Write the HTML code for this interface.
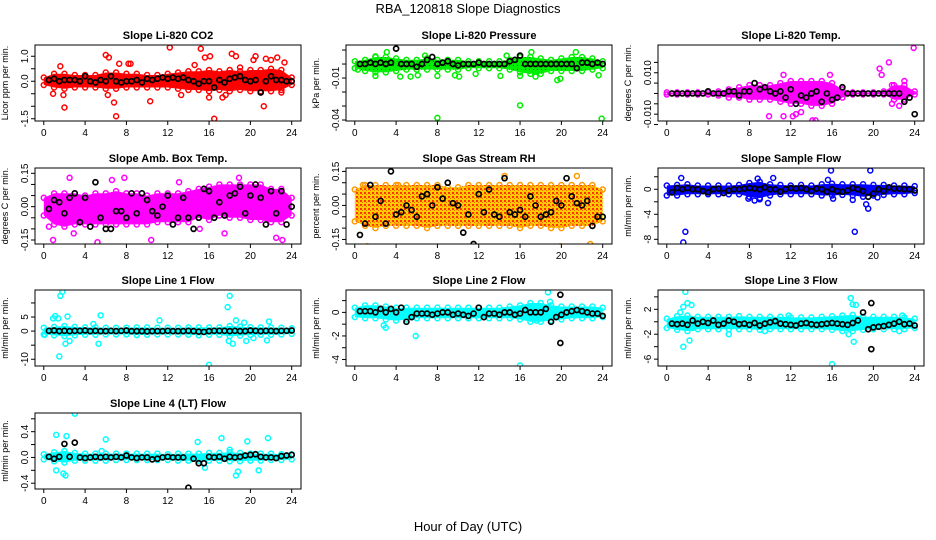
<!DOCTYPE html>
<html><head><meta charset="utf-8"><style>
html,body{margin:0;padding:0;background:#fff;}
svg{display:block;font-family:"Liberation Sans",Arial,sans-serif;}
</style></head><body>
<svg id="chart" width="936" height="540" viewBox="0 0 936 540" xmlns="http://www.w3.org/2000/svg">
<defs>
<pattern id="rh-pat" width="4" height="4" patternUnits="userSpaceOnUse">
<rect width="4" height="4" fill="#ffcc00"/><rect x="0" y="0" width="2" height="2" fill="#ff3300"/><rect x="2" y="2" width="1" height="1" fill="#ff6600"/>
</pattern>
<pattern id="pres-pat" width="4" height="4" patternUnits="userSpaceOnUse">
<rect width="4" height="4" fill="#00ee00"/><rect x="1" y="1" width="1" height="1" fill="#006600"/>
</pattern>
</defs>
<text x="468" y="13" font-size="13" text-anchor="middle">RBA_120818  Slope Diagnostics</text>
<text x="468" y="531" font-size="13" text-anchor="middle">Hour of Day (UTC)</text>
</svg>
<script>
const hourTicks=[0,4,8,12,16,20,24];
const bandHours=[0,1,2,3,4,5,6,7,8,9,10,11,12,13,14,15,16,17,18,19,20,21,22,23,24];

const co2Lo=[-0.15,-0.25,-0.3,-0.25,-0.25,-0.25,-0.3,-0.3,-0.25,-0.25,-0.25,-0.25,-0.25,-0.3,-0.35,-0.35,-0.4,-0.35,-0.4,-0.35,-0.4,-0.4,-0.4,-0.35,-0.15];
const co2Hi=[0.15,0.3,0.3,0.25,0.25,0.25,0.35,0.35,0.3,0.3,0.25,0.25,0.3,0.35,0.4,0.4,0.45,0.4,0.45,0.4,0.45,0.45,0.5,0.45,0.15];
const co2OutX=[0.9,1.9,2.0,1.6,6.0,6.3,6.2,6.8,7.0,7.3,8.2,8.4,10.3,12.2,13.3,14.6,15.2,15.6,16.1,16.5,16.0,17.3,17.6,18.2,18.6,19.0,20.3,20.5,21.3,21.5,22.0,22.6,23.3,23.0];
const co2OutY=[-0.5,-0.55,-1.05,0.6,1.05,0.95,-0.55,-0.85,-1.4,0.7,0.7,0.7,-0.8,1.35,-0.55,0.65,1.3,0.95,1.0,-1.5,-0.65,-0.65,-0.55,1.1,1.0,0.55,0.85,1.0,-1.0,0.9,0.85,0.95,0.75,-0.45];
const co2Means=[0.05,0.1,0.0,0.05,0.05,0.05,0.0,0.2,0.0,-0.05,0.05,0.0,0.2,0.0,-0.05,0.0,0.0,0.05,-0.05,0.1,0.05,0.1,0.15,0.1,0.15,0.1,0.15,0.05,0.0,-0.1,0.0,0.0,-0.25,0.05,-0.05,0.1,0.15,0.2,0.05,0.0,0.05,-0.45,0.0,0.2,0.05,0.05,0.0,0.0];

const presLo=[-0.003,-0.005,-0.006,-0.006,-0.005,-0.004,-0.004,-0.004,-0.004,-0.004,-0.004,-0.003,-0.003,-0.003,-0.003,-0.004,-0.006,-0.007,-0.007,-0.005,-0.005,-0.005,-0.005,-0.004,-0.003];
const presHi=[0.002,0.003,0.005,0.005,0.004,0.003,0.003,0.004,0.003,0.003,0.003,0.002,0.002,0.002,0.002,0.003,0.005,0.005,0.004,0.003,0.004,0.005,0.005,0.004,0.002];
const presOutX=[0.3,2,2,3.1,4.4,5.4,6.1,6.8,8.0,8.0,9.7,10.1,11.7,14.1,14.7,16.0,16.0,17.1,17.5,19.6,19.9,21.4,23.6,23.9];
const presOutY=[-0.004,-0.0085,0.0055,0.0085,-0.009,-0.009,-0.008,0.006,-0.0085,-0.0385,-0.008,-0.009,-0.007,-0.0085,0.006,-0.0295,-0.0085,0.0085,-0.009,-0.0115,-0.0105,0.0085,-0.008,-0.039];
const presMeans=[0,0,0.001,0,0.001,0,0.001,0.011,0,0,0,-0.002,0,0.003,0.005,0,0.001,0.002,0,-0.001,0,0,0,0.001,0,0,0,0,0,0.002,0.003,0.006,0,0,0,0,0,0,0,0,0,0,-0.003,0.001,0.001,0,0.001,0];

const tempLo=[-0.0005,-0.0005,-0.0005,-0.0005,-0.0005,-0.001,-0.002,-0.002,-0.003,-0.003,-0.003,-0.004,-0.005,-0.005,-0.006,-0.006,-0.005,-0.002,-0.0005,-0.0005,-0.0005,-0.0005,-0.003,-0.003,-0.0005];
const tempHi=[0.0005,0.0005,0.0005,0.0005,0.0005,0.001,0.002,0.003,0.004,0.004,0.004,0.005,0.006,0.006,0.006,0.006,0.005,0.002,0.0005,0.0005,0.0005,0.001,0.004,0.004,0.001];
const tempOutX=[9.9,11.3,11.3,12.2,12.5,13.0,14.1,14.4,15.8,20.6,20.8,21.5,21.8,21.8,23.0,23.9,22.5];
const tempOutY=[-0.011,0.009,-0.011,-0.011,-0.010,-0.009,-0.013,-0.013,0.009,0.012,0.009,0.015,0.004,-0.005,0.006,0.022,-0.006];
const tempMeans=[0,0,0,0,0,0,0,0.001,0,0,0,0.001,0.001,-0.001,0.001,0.001,0.005,0.002,0.003,0.001,0,0.001,-0.002,0.002,-0.005,-0.001,-0.002,0,0.001,-0.004,0,-0.003,-0.002,0.003,0,0,0,0,0,0,0,0,0,0,0,-0.004,-0.002,-0.010];

const ambLo=[-0.04,-0.08,-0.09,-0.08,-0.08,-0.08,-0.08,-0.08,-0.08,-0.08,-0.08,-0.07,-0.07,-0.07,-0.07,-0.05,-0.06,-0.04,-0.05,-0.05,-0.06,-0.06,-0.07,-0.07,-0.04];
const ambHi=[0.04,0.06,0.06,0.06,0.05,0.06,0.06,0.07,0.06,0.06,0.05,0.06,0.06,0.06,0.07,0.08,0.09,0.1,0.1,0.1,0.1,0.1,0.08,0.08,0.04];
const ambOutX=[0.5,0.9,1.1,2.5,2.9,5.2,6.2,7.3,7.8,6.6,9.5,10.4,13.1,15.1,17.5,18.9,20.3,20.7,22.5,23.1];
const ambOutY=[-0.09,-0.15,-0.18,0.13,-0.12,-0.16,-0.22,-0.23,0.13,0.12,-0.18,-0.15,0.11,-0.1,-0.12,0.13,0.19,0.19,-0.14,-0.15];
const ambMeans=[-0.01,0.03,0.02,-0.03,0.04,0.06,-0.07,0.04,-0.09,0.11,-0.05,-0.1,-0.1,-0.02,-0.02,-0.05,0.06,-0.03,0.06,0.03,-0.02,-0.04,0.0,0.05,-0.08,-0.05,0.04,-0.05,-0.1,-0.05,0.08,0.07,-0.05,0.02,-0.04,0.05,0.06,0.09,-0.03,0.05,0.10,0.04,-0.08,0.07,-0.03,0.07,-0.08,0.00];

const rhLo=[-0.07,-0.09,-0.1,-0.09,-0.09,-0.09,-0.09,-0.1,-0.09,-0.09,-0.09,-0.09,-0.09,-0.09,-0.09,-0.09,-0.1,-0.09,-0.09,-0.1,-0.1,-0.09,-0.09,-0.09,-0.07];
const rhHi=[0.07,0.09,0.09,0.09,0.09,0.09,0.09,0.09,0.09,0.08,0.08,0.09,0.09,0.09,0.09,0.09,0.09,0.09,0.09,0.09,0.09,0.09,0.09,0.09,0.07];
const rhOutX=[1.2,6.3,8.3,9.3,15.3,14.5,19.9,21.5,22.8,4.2,0.8];
const rhOutY=[-0.18,-0.22,-0.2,-0.22,-0.25,0.13,-0.18,0.13,-0.17,0.09,0.09];
const rhMeans=[-0.13,-0.08,0.09,-0.05,0.02,-0.08,0.15,-0.04,-0.03,0.0,-0.02,-0.05,0.04,0.05,0.0,0.08,0.03,0.1,0.01,0.0,-0.12,-0.04,-0.17,0.05,-0.03,0.07,-0.04,-0.05,0.12,-0.03,-0.04,-0.02,-0.05,0.04,0.0,-0.05,-0.04,-0.03,0.02,0.0,0.12,0.04,0.01,0.0,0.02,-0.09,-0.05,-0.05];

const smpLo=[-1.0,-1.0,-0.8,-0.8,-0.8,-0.8,-0.8,-0.8,-1.2,-1.4,-1.0,-0.8,-0.8,-0.8,-0.8,-1.0,-1.0,-0.9,-1.0,-1.2,-1.0,-0.9,-0.8,-0.8,-0.6];
const smpHi=[0.6,0.7,0.8,0.6,0.6,0.6,0.6,0.7,1.0,1.2,0.8,0.7,0.6,0.7,0.6,0.8,0.9,0.8,0.8,0.8,0.7,0.7,0.6,0.6,0.5];
const smpOutX=[1.4,1.6,1.8,8.8,10.3,9.8,7.9,8.5,9.0,15.9,16.1,18.0,18.2,19.3,19.5,19.7,20.4,15.6];
const smpOutY=[1.8,-8.5,-6.8,1.7,1.8,-2.2,-1.5,-1.8,-1.6,3.0,-1.5,-1.7,-6.8,-2.4,-3.1,3.0,-1.3,1.5];
const smpMeans=[-0.5,0.2,0.0,0.2,0.0,0.0,-0.3,-0.5,0,0.1,-0.6,-0.2,0,0,0.1,0.2,0.1,0,0.3,0.0,0.0,-0.4,0.0,0.2,0.1,0.2,0.0,-0.3,0.1,0.0,-0.4,0.0,-0.3,-0.4,-0.2,0.2,0.0,-0.3,-1.2,-0.7,0.0,-0.3,0.3,0.1,0.1,0.0,0.0,-0.2];

const l1Lo=[-1.2,-1.5,-1.8,-1.5,-1.3,-1.3,-1.2,-1.2,-1.2,-1.4,-1.3,-1.2,-1.2,-1.2,-1.3,-1.5,-1.3,-1.3,-1.8,-1.6,-1.4,-1.3,-1.3,-1.2,-1.0];
const l1Hi=[1.2,1.5,1.8,1.5,1.3,1.3,1.2,1.2,1.2,1.3,1.3,1.2,1.2,1.2,1.3,1.3,1.3,1.3,1.8,1.6,1.4,1.3,1.3,1.2,1.0];
const l1OutX=[0.1,0.9,1.1,1.4,1.5,1.6,1.8,2.1,2.3,2.5,4.8,5.3,5.5,11.2,16.0,17.8,18.0,17.9,18.3,18.6,19.4,19.6,20.3,21.6,21.8];
const l1OutY=[-1.3,4.5,5.3,4.5,-9,12.5,14,-4.5,5.2,-3.5,2.5,-4.5,5.6,3.8,-12,8.5,12.5,-3.5,-4.5,3.8,3.0,-3.5,-2.5,-3.3,3.4];
const l1Means=[0.1,0.2,0,0.1,0,0.1,0.1,0.2,0,0.1,0,0,0.1,0,0.1,0.2,0,0,0,-0.1,0,0,0,0.1,0,0,0,0.1,0,-0.2,-0.3,0,0.1,0.1,0.1,0,0.1,0,0,0.2,0.1,0,0.1,0.1,0,0.1,0.1,0.2];

const l2Lo=[-0.4,-0.5,-0.5,-0.6,-0.7,-0.6,-0.5,-0.5,-0.5,-0.5,-0.5,-0.5,-0.5,-0.5,-0.5,-0.5,-0.6,-0.8,-0.8,-0.7,-0.6,-0.5,-0.5,-0.5,-0.4];
const l2Hi=[0.4,0.6,0.6,0.5,0.4,0.4,0.4,0.4,0.4,0.4,0.4,0.4,0.4,0.4,0.4,0.5,0.6,0.8,0.8,0.6,0.5,0.5,0.5,0.5,0.4];
const l2OutX=[2.8,3.0,5.9,16.0,18.7,18.9,17.6];
const l2OutY=[-1.1,-1.3,-2.0,-4.5,1.7,0.9,-0.7];
const l2Means=[0.1,0.1,0.1,0.0,0.3,0.0,0.3,0.0,0.4,-0.8,-0.4,-0.1,-0.1,-0.1,-0.2,-0.1,0.0,0.0,-0.2,-0.1,-0.2,-0.3,-0.1,0.4,-0.4,-0.1,-0.1,-0.2,0.0,0.0,-0.2,-0.1,0.2,0.0,0.0,0.0,0.3,-0.8,-0.4,-0.2,0.0,0.1,0.2,0.1,0.0,-0.1,-0.1,-0.3];
const l2BlackX=[19.9,19.9];
const l2BlackY=[-2.6,1.5];

const l3Lo=[-1.0,-1.3,-1.5,-1.2,-1.2,-1.2,-1.2,-1.2,-1.2,-1.3,-1.2,-1.2,-1.2,-1.2,-1.2,-1.2,-1.3,-1.5,-1.5,-1.3,-1.2,-1.2,-1.2,-1.2,-1.0];
const l3Hi=[0.5,0.9,1.0,0.8,0.8,0.8,0.8,0.9,0.8,0.8,0.8,0.8,0.7,0.7,0.7,0.8,0.9,1.0,1.1,0.8,0.8,0.8,0.8,0.7,0.5];
const l3OutX=[1.3,1.6,1.8,2.0,1.6,2.2,2.4,2.5,6.0,9.5,11.8,16.0,17.6,17.8,18.0,18.1,18.3,22.5,22.8];
const l3OutY=[1.5,2.4,4.8,3.0,-4.0,-3.0,2.7,-1.0,-2.0,-1.5,1.0,-6.8,-2.0,3.8,2.8,-3.2,2.7,-1.5,1.0];
const l3Means=[-0.3,-0.4,-0.3,-0.5,0.2,-0.3,0.0,-0.2,0.2,-0.5,-0.3,0.2,0.0,-0.4,-0.3,-0.5,-0.2,-0.6,-0.3,-0.1,0.1,-0.3,-0.4,-0.5,-0.6,-0.3,-0.2,-0.4,-0.5,-0.4,-0.3,-0.2,-0.3,-0.4,-0.5,-0.2,0.2,1.5,-1.2,-0.9,-0.8,-0.7,-0.5,-0.3,0.0,-0.4,-0.3,-0.6];
const l3BlackX=[19.8,19.8];
const l3BlackY=[-4.4,3.0];

const l4Lo=[-0.03,-0.06,-0.08,-0.05,-0.05,-0.05,-0.05,-0.04,-0.04,-0.04,-0.04,-0.04,-0.04,-0.05,-0.05,-0.05,-0.05,-0.05,-0.06,-0.06,-0.05,-0.05,-0.04,-0.04,-0.03];
const l4Hi=[0.05,0.08,0.1,0.07,0.06,0.06,0.06,0.06,0.06,0.06,0.06,0.06,0.05,0.06,0.06,0.06,0.07,0.07,0.08,0.07,0.06,0.06,0.06,0.05,0.05];
const l4OutX=[1.2,1.2,1.9,2.1,2.2,3.0,6.0,14.9,15.6,17.2,18.6,18.8,19.7,20.8,21.7,5.6,18.0];
const l4OutY=[0.35,-0.2,-0.25,-0.28,0.33,0.68,0.28,0.24,-0.16,0.3,-0.28,-0.22,0.25,-0.2,0.3,0.1,0.12];
const l4Means=[0.01,-0.02,0.01,0.21,0.01,0.23,0.0,-0.01,0.0,0.01,0.0,0.01,0.0,0.01,0.0,0.03,0.0,-0.01,0.0,0.0,-0.03,-0.02,0.0,0.01,0.0,0.0,0.0,-0.47,-0.02,-0.09,-0.09,0.01,0.0,0.01,-0.02,0.01,0.0,0.01,0.03,0.04,0.05,0.01,0.0,0.0,-0.01,0.02,0.03,0.04];

const panels=[
 {key:'co2',title:'Slope Li-820 CO2',yt:'Licor ppm per min.',col:0,row:0,color:'#ff0000',yd:[-1.59,1.45],ticks:[-1.5,-1,-0.5,0,0.5,1],labs:{'-1.5':'-1.5','0':'0.0','1':'1.0'},lo:co2Lo,hi:co2Hi,ox:co2OutX,oy:co2OutY,m:co2Means},
 {key:'pressure',title:'Slope Li-820 Pressure',yt:'kPa per min.',col:1,row:0,color:'#00ee00',fill:'url(#pres-pat)',yd:[-0.0407,0.0136],ticks:[-0.04,-0.03,-0.02,-0.01,0,0.01],labs:{'-0.04':'-0.04','-0.01':'-0.01'},lo:presLo,hi:presHi,ox:presOutX,oy:presOutY,m:presMeans},
 {key:'temp',title:'Slope Li-820 Temp.',yt:'degrees C per min.',col:2,row:0,color:'#ff00ff',yd:[-0.0133,0.0234],ticks:[-0.015,-0.01,-0.005,0,0.005,0.01,0.015],labs:{'-0.01':'-0.010','0.01':'0.010'},lo:tempLo,hi:tempHi,ox:tempOutX,oy:tempOutY,m:tempMeans},
 {key:'amb-box',title:'Slope Amb. Box Temp.',yt:'degrees C per min.',col:0,row:1,color:'#ff00ff',yd:[-0.168,0.174],ticks:[-0.15,-0.1,-0.05,0,0.05,0.1,0.15],labs:{'-0.15':'-0.15','0':'0.00','0.15':'0.15'},lo:ambLo,hi:ambHi,ox:ambOutX,oy:ambOutY,m:ambMeans},
 {key:'gas-rh',title:'Slope Gas Stream RH',yt:'percent per min.',col:1,row:1,color:'#ff9900',fill:'url(#rh-pat)',yd:[-0.17,0.165],ticks:[-0.15,-0.1,-0.05,0,0.05,0.1,0.15],labs:{'-0.15':'-0.15','0':'0.00','0.15':'0.15'},lo:rhLo,hi:rhHi,ox:rhOutX,oy:rhOutY,m:rhMeans},
 {key:'sample-flow',title:'Slope Sample Flow',yt:'ml/min per min.',col:2,row:1,color:'#0000ff',yd:[-8.75,3.4],ticks:[-8,-6,-4,-2,0,2],labs:{'-8':'-8','-4':'-4','0':'0'},lo:smpLo,hi:smpHi,ox:smpOutX,oy:smpOutY,m:smpMeans},
 {key:'line1',title:'Slope Line 1 Flow',yt:'ml/min per min.',col:0,row:2,color:'#00ffff',yd:[-12.4,14.6],ticks:[-10,-5,0,5,10],labs:{'-10':'-10','0':'0','5':'5'},lo:l1Lo,hi:l1Hi,ox:l1OutX,oy:l1OutY,m:l1Means},
 {key:'line2',title:'Slope Line 2 Flow',yt:'ml/min per min.',col:1,row:2,color:'#00ffff',yd:[-4.55,1.9],ticks:[-4,-3,-2,-1,0,1],labs:{'-4':'-4','-2':'-2','0':'0'},lo:l2Lo,hi:l2Hi,ox:l2OutX,oy:l2OutY,m:l2Means,bx:l2BlackX,by:l2BlackY},
 {key:'line3',title:'Slope Line 3 Flow',yt:'ml/min per min.',col:2,row:2,color:'#00ffff',yd:[-7.1,5.1],ticks:[-6,-4,-2,0,2,4],labs:{'-6':'-6','-2':'-2','2':'2'},lo:l3Lo,hi:l3Hi,ox:l3OutX,oy:l3OutY,m:l3Means,bx:l3BlackX,by:l3BlackY},
 {key:'line4',title:'Slope Line 4 (LT) Flow',yt:'ml/min per min.',col:0,row:3,color:'#00ffff',yd:[-0.49,0.69],ticks:[-0.4,-0.2,0,0.2,0.4,0.6],labs:{'-0.4':'-0.4','0':'0.0','0.4':'0.4'},lo:l4Lo,hi:l4Hi,ox:l4OutX,oy:l4OutY,m:l4Means}
];
const colX=[35,346,658], rowY=[45,168,290,413], W=266, H=76;
const NS='http://www.w3.org/2000/svg';
const svg=document.getElementById('chart');
function mk(tag,attrs,parent){const e=document.createElementNS(NS,tag);for(const k in attrs)e.setAttribute(k,attrs[k]);(parent||svg).appendChild(e);return e;}
panels.forEach(p=>{
 const x0=colX[p.col], y0=rowY[p.row];
 const xs=h=>x0+(h+0.85)/25.75*W;
 const ys=v=>y0+H-(v-p.yd[0])/(p.yd[1]-p.yd[0])*H;
 const g=mk('g',{});
 
 
 const cp=mk('clipPath',{id:'cp-'+p.key},g);
 mk('rect',{x:x0,y:y0,width:W,height:H},cp);
 const t=mk('text',{x:x0+W/2,y:y0-6,'font-size':11,'font-weight':'bold','text-anchor':'middle'},g);
 t.textContent=p.title;
 
 
 const yt=mk('text',{x:0,y:0,'font-size':9,'text-anchor':'middle',transform:`translate(${x0-27},${y0+H/2}) rotate(-90)`},g);
 yt.textContent=p.yt;
 
 
 const plot=mk('g',{'clip-path':`url(#cp-${p.key})`},g);
 let d='M'+bandHours.map((h,i)=>xs(h).toFixed(1)+','+ys(p.hi[i]).toFixed(1)).join('L');
 for(let i=bandHours.length-1;i>=0;i--) d+='L'+xs(bandHours[i]).toFixed(1)+','+ys(p.lo[i]).toFixed(1);
 const band=mk('path',{d:d+'Z',fill:p.fill||p.color,stroke:'none'},plot);
 
 
 bandHours.forEach((h,i)=>{
  [p.lo[i],p.hi[i]].forEach(v=>{
   const c=mk('circle',{cx:xs(h),cy:ys(v),r:2.5,fill:'none',stroke:p.color,'stroke-width':1.5},plot);
   
   
  });
 });
 p.ox.forEach((h,i)=>{
  const c=mk('circle',{cx:xs(h),cy:ys(p.oy[i]),r:2.5,fill:'none',stroke:p.color,'stroke-width':1.5},plot);
  
  
 });
 p.m.forEach((v,i)=>{
  const c=mk('circle',{cx:xs(0.5*(i+1)),cy:ys(v),r:2.5,fill:'none',stroke:'#000','stroke-width':1.7},plot);
  
  
 });
 if(p.bx) p.bx.forEach((h,i)=>{
  const c=mk('circle',{cx:xs(h),cy:ys(p.by[i]),r:2.5,fill:'none',stroke:'#000','stroke-width':1.7},plot);
  
  
 });
 const box=mk('rect',{x:x0,y:y0,width:W,height:H,fill:'none',stroke:'#000','stroke-width':1},g);
 
 
 hourTicks.forEach(h=>{
  mk('line',{x1:xs(h),x2:xs(h),y1:y0+H,y2:y0+H+4,stroke:'#000'},g);
  const tl=mk('text',{x:xs(h),y:y0+H+15,'font-size':10,'text-anchor':'middle'},g);
  tl.textContent=String(h);
  
  
 });
 p.ticks.forEach(v=>{
  mk('line',{x1:x0-4,x2:x0,y1:ys(v),y2:ys(v),stroke:'#000'},g);
  const lab=p.labs[String(v)];
  if(lab!==undefined){
   const tl=mk('text',{x:0,y:0,'font-size':10,'text-anchor':'middle',transform:`translate(${x0-7},${ys(v)}) rotate(-90)`},g);
   tl.textContent=lab;
   
   
  }
 });
});
</script>
</body></html>
